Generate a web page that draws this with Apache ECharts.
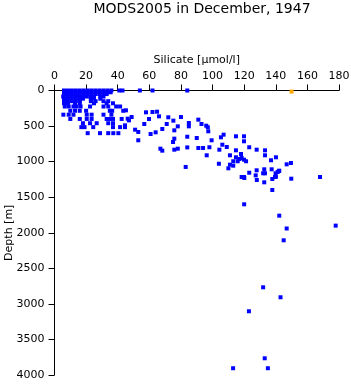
<!DOCTYPE html>
<html lang="en">
<head>
    <meta charset="utf-8">
    <title>MODS2005 in December, 1947</title>
    <script src="https://cdn.jsdelivr.net/npm/echarts@6/dist/echarts.min.js"></script>
</head>
<body style="margin:0; background:#fff;">
<div id="main" style="width:351px; height:384px;"></div>

<script type="text/javascript">
    // silicate [umol/l] and depth [m] of the normal (blue) samples
    const silicate = [
        6, 8.5, 11, 13.5, 16, 18.5, 21, 23.5, 26, 28.5, 31, 33.5, 36, 41, 43, 54, 62, 84,
        6, 8.5, 11, 13.5, 16, 18.5, 21, 23.5, 26, 28.5, 31, 33.5, 35.5,
        6, 8.5, 11, 13.5, 16, 18.5, 21, 23.5, 26, 28.5, 31, 33,
        5.5, 8, 10.5, 13, 15.5, 18, 20.5, 23, 25, 29, 31,
        6, 8.5, 11, 13.5, 16, 18, 23, 25, 29,
        6, 8.5, 11, 13.5, 16, 23, 26, 31, 34,
        6, 8.5, 13, 16, 25, 33, 37,
        6.5, 9, 12, 14, 16.5, 22.5, 31, 34, 39, 41.5,
        10, 13, 16, 20, 35, 36.5, 43.5,
        5.6, 9, 12, 20.4, 23.5, 31, 36,
        10, 16, 20.4, 23.5, 33, 35, 37, 42.5,
        18, 22.5, 26.7, 34, 37,
        17, 19, 24.5, 37, 41.5, 44.6,
        21, 28.8, 34, 37.2, 40.4,
        45.2, 46.3, 47.1, 44.6, 48.8, 51, 53, 53, 56.8, 57.9, 59.8, 62, 64.9, 60.8, 64,
        66.1, 68.2, 67, 68.2, 71, 72, 75.2, 75.8, 75.8, 75, 75.8, 78, 78, 80, 83, 84, 84,
        85, 85, 90, 91, 91, 93, 94, 96, 97, 97.3, 96.3, 98, 99.4, 104.3, 104, 105.3, 106.2, 107,
        114.8, 119.9, 109, 119.9, 114.8, 123.2, 127.9, 133.2, 133.2, 111, 118, 114.8, 117,
        118.4, 119.9, 121.2, 113.1, 115.9, 137, 140.1, 146.9, 149.6, 111, 113.1, 110, 123.2,
        127.9, 132.7, 137.4, 142.2, 141.2, 127.3, 132, 133.2, 139.9, 118.4, 119.9, 139.5, 168,
        128, 132.7, 137.8, 149.8, 120.1, 137.8, 140.1, 142,
        120, 142.2, 177.9, 146.9, 145,
        132, 143, 123, 133, 113, 135
    ];
    const depth = [
        0, 0, 0, 0, 0, 0, 0, 0, 0, 0, 0, 0, 0, 0, 0, 0, 0, 0,
        25, 25, 25, 25, 25, 25, 25, 25, 25, 25, 25, 25, 25,
        50, 50, 50, 50, 50, 50, 50, 50, 50, 50, 50, 50,
        85, 85, 85, 85, 85, 85, 85, 85, 85, 85, 85,
        115, 115, 115, 115, 115, 115, 115, 115, 115,
        150, 150, 150, 150, 150, 150, 150, 150, 150,
        180, 180, 180, 180, 180, 180, 180,
        225, 225, 225, 225, 225, 225, 225, 225, 225, 225,
        285, 285, 285, 285, 285, 285, 285,
        340, 340, 340, 340, 340, 340, 340,
        400, 400, 400, 400, 400, 400, 400, 400,
        460, 460, 460, 460, 460,
        515, 515, 515, 515, 515, 515,
        600, 600, 600, 600, 600,
        279, 396, 420, 490, 373, 551, 583, 700, 471, 307, 401, 302, 298, 612, 588,
        363, 541, 818, 846, 471, 377, 424, 560, 677, 724, 832, 818, 504, 373, 1075, 650, 800,
        457, 504, 668, 410, 808, 471, 808, 495, 517, 574, 911, 798, 700, 832, 1030, 658, 762, 621,
        644, 644, 794, 714, 841, 798, 832, 841, 911, 911, 893, 939, 963,
        949, 973, 995, 995, 995, 981, 939, 1038, 1019, 1043, 1057, 1094, 1156,
        1122, 1108, 1108, 1127, 1146, 1193, 1164, 1164, 1164, 1216, 1216, 1216, 1216,
        1258, 1291, 1399, 1240, 1230, 1244, 1212, 1132,
        1600, 1760, 1900, 1940, 2106,
        2767, 2907, 3104, 3765, 3905, 3905
    ];
    // the single flagged (orange) sample
    const flagSilicate = [150];
    const flagDepth = [15];

    const xRange = [0, 180, 20];
    const yRange = [0, 4000, 500];

    function pairs(xs, ys) {
        let out = [];
        for (let i = 0; i < xs.length; i++) out.push([xs[i], ys[i]]);
        return out;
    }

    const font = 'DejaVu Sans';
    let myChart = echarts.init(document.getElementById('main'));
    const option = {
        animation: false,
        title: {
            text: 'MODS2005 in December, 1947',
            left: 197,
            top: -3,
            textAlign: 'center',
            textStyle: { fontFamily: font, fontSize: 14, fontWeight: 'normal', color: '#000' }
        },
        grid: { left: 54.5, right: 12, top: 90.5, bottom: 9, containLabel: false, outerBoundsMode: 'none' },
        xAxis: {
            type: 'value',
            position: 'top',
            min: xRange[0], max: xRange[1], interval: xRange[2],
            name: 'Silicate [µmol/l]',
            nameLocation: 'middle',
            nameGap: 25,
            nameMoveOverlap: false,
            nameTextStyle: { fontFamily: font, fontSize: 11, color: '#000' },
            axisLine: { onZero: false, lineStyle: { color: '#000', width: 1 } },
            axisTick: { inside: false, length: 6, lineStyle: { color: '#000' } },
            axisLabel: { margin: 9, fontFamily: font, fontSize: 11, color: '#000' },
            splitLine: { show: false }
        },
        yAxis: {
            type: 'value',
            inverse: true,
            min: yRange[0], max: yRange[1], interval: yRange[2],
            name: 'Depth [m]',
            nameLocation: 'middle',
            nameGap: 40,
            nameMoveOverlap: false,
            nameTextStyle: { fontFamily: font, fontSize: 11, color: '#000' },
            axisLine: { onZero: false, lineStyle: { color: '#000', width: 1 } },
            axisTick: { inside: false, length: 6, lineStyle: { color: '#000' } },
            axisLabel: { margin: 10, fontFamily: font, fontSize: 11, color: '#000',
                formatter: function (v) { return String(v); } },
            splitLine: { show: false }
        },
        series: [{
            type: 'scatter',
            symbol: 'rect',
            symbolSize: 4,
            itemStyle: { color: '#0000ff', opacity: 1 },
            data: pairs(silicate, depth)
        }, {
            type: 'scatter',
            symbol: 'rect',
            symbolSize: 4,
            itemStyle: { color: '#ffa500', opacity: 1 },
            data: pairs(flagSilicate, flagDepth)
        }]
    };
    myChart.setOption(option);
</script>
</body>
</html>
